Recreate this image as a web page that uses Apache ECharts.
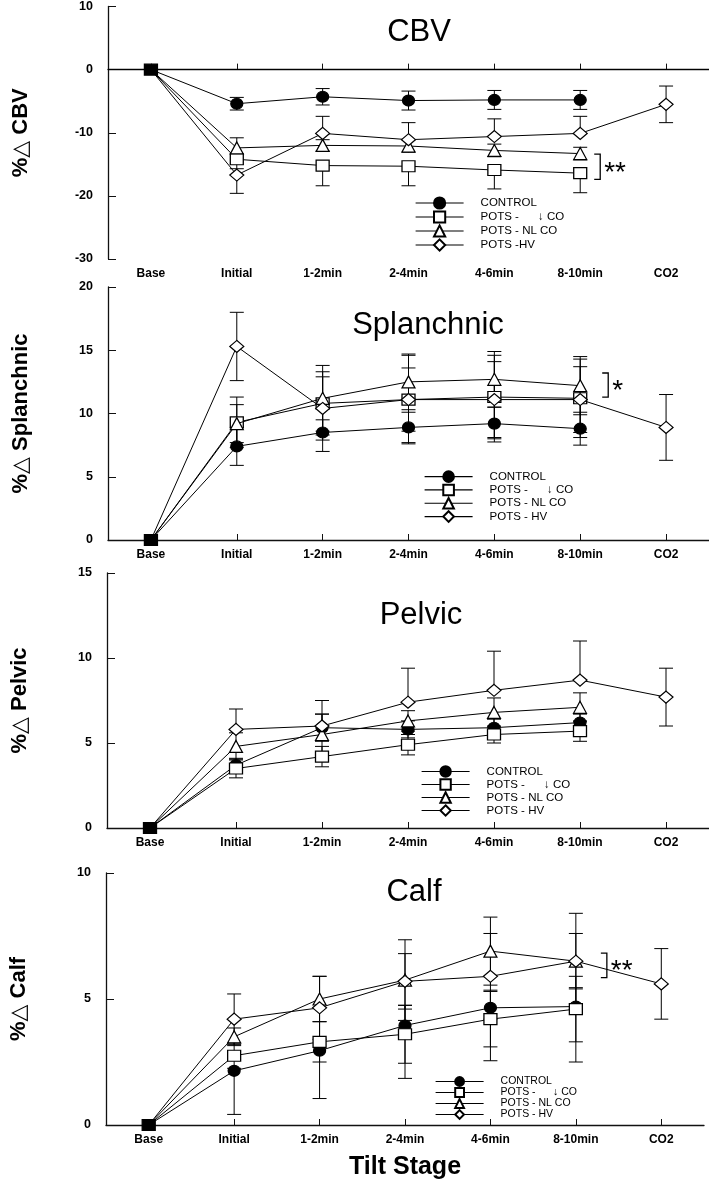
<!DOCTYPE html>
<html><head><meta charset="utf-8">
<script src="https://cdn.jsdelivr.net/npm/echarts@6/dist/echarts.min.js"></script>
<style>html,body{margin:0;padding:0;background:#fff}#c{width:709px;height:1181px}</style>
</head><body><div id="c"></div>
<script>
// ---------------- DATA ----------------
const categories = ['Base', 'Initial', '1-2min', '2-4min', '4-6min', '8-10min', 'CO2'];
const groupNames = ['CONTROL', 'POTS -      \u2193 CO', 'POTS - NL CO', 'POTS - HV'];
const cbvGroupNames = ['CONTROL', 'POTS -      \u2193 CO', 'POTS - NL CO', 'POTS -HV'];
const panelTitles = ['CBV', 'Splanchnic', 'Pelvic', 'Calf'];
const yAxisNames = ['%\u25B3 CBV', '%\u25B3 Splanchnic', '%\u25B3 Pelvic', '%\u25B3 Calf'];
const yMins = [-30, 0, 0, 0];
const yMaxs = [10, 20, 15, 10];
const yIntervals = [10, 5, 5, 5];
const xAxisTitle = 'Tilt Stage';

// CBV
const cbvControl      = [0, -5.4, -4.3, -4.9, -4.8, -4.8, null];
const cbvControlErrHi = [0, 1.0, 1.3, 1.5, 1.5, 1.5, null];
const cbvControlErrLo = [0, 1.0, 1.3, 1.5, 1.5, 1.5, null];
const cbvLowCO        = [0, -14.2, -15.2, -15.3, -15.9, -16.4, null];
const cbvLowCOErrHi   = [0, 0, 0, 0, 0, 0, null];
const cbvLowCOErrLo   = [0, 1.5, 3.2, 3.1, 3.0, 3.1, null];
const cbvNLCO         = [0, -12.4, -12.0, -12.1, -12.8, -13.3, null];
const cbvNLCOErrHi    = [0, 1.6, 0.9, 1.0, 1.0, 1.0, null];
const cbvNLCOErrLo    = [0, 0, 0.9, 1.0, 1.0, 1.0, null];
const cbvHV           = [0, -16.7, -10.1, -11.1, -10.6, -10.1, -5.5];
const cbvHVErrHi      = [0, 0, 2.7, 2.7, 2.8, 2.7, 2.9];
const cbvHVErrLo      = [0, 2.9, 0, 0, 0, 0, 2.9];

// Splanchnic
const splControl      = [0, 7.4, 8.5, 8.9, 9.2, 8.8, null];
const splControlErrHi = [0, 1.5, 1.0, 1.2, 1.3, 1.3, null];
const splControlErrLo = [0, 1.5, 1.5, 1.2, 1.45, 1.3, null];
const splLowCO        = [0, 9.3, 10.8, 11.1, 11.3, 11.2, null];
const splLowCOErrHi   = [0, 2.0, 2.5, 3.5, 3.3, 3.1, null];
const splLowCOErrLo   = [0, 2.0, 2.5, 3.5, 3.3, 3.1, null];
const splNLCO         = [0, 9.2, 11.2, 12.5, 12.7, 12.2, null];
const splNLCOErrHi    = [0, 1.5, 2.6, 2.2, 2.2, 2.3, null];
const splNLCOErrLo    = [0, 1.5, 2.6, 2.2, 2.2, 2.3, null];
const splHV           = [0, 15.3, 10.4, 11.1, 11.1, 11.1, 8.9];
const splHVErrHi      = [0, 2.7, 2.5, 2.5, 3.0, 2.6, 2.6];
const splHVErrLo      = [0, 2.7, 2.5, 2.5, 3.0, 2.6, 2.6];

// Pelvic
const pelControl      = [0, 3.7, 5.9, 5.8, 5.9, 6.2, null];
const pelControlErrHi = [0, 0.4, 0.8, 0.5, 0.5, 0.5, null];
const pelControlErrLo = [0, 0.4, 0.8, 0.5, 0.5, 0.5, null];
const pelLowCO        = [0, 3.5, 4.2, 4.9, 5.5, 5.7, null];
const pelLowCOErrHi   = [0, 0.55, 0.6, 0.6, 0.5, 0.6, null];
const pelLowCOErrLo   = [0, 0.55, 0.6, 0.6, 0.5, 0.6, null];
const pelNLCO         = [0, 4.8, 5.5, 6.3, 6.8, 7.1, null];
const pelNLCOErrHi    = [0, 0.8, 1.2, 0.6, 0.85, 0.85, null];
const pelNLCOErrLo    = [0, 0.8, 1.2, 0.6, 0.85, 0.85, null];
const pelHV           = [0, 5.8, 6.0, 7.4, 8.1, 8.7, 7.7];
const pelHVErrHi      = [0, 1.2, 1.5, 2.0, 2.3, 2.3, 1.7];
const pelHVErrLo      = [0, 0, 0, 0, 0, 0, 1.7];

// Calf
const calfControl      = [0, 2.15, 2.95, 3.95, 4.65, 4.7, null];
const calfControlErrHi = [0, 0, 0, 0.8, 0.7, 0.75, null];
const calfControlErrLo = [0, 1.73, 1.9, 2.1, 2.1, 2.2, null];
const calfLowCO        = [0, 2.75, 3.3, 3.6, 4.2, 4.6, null];
const calfLowCOErrHi   = [0, 0.5, 0.8, 1.15, 1.1, 1.3, null];
const calfLowCOErrLo   = [0, 0.5, 0.8, 1.15, 1.1, 1.3, null];
const calfNLCO         = [0, 3.5, 5.0, 5.75, 6.9, 6.5, null];
const calfNLCOErrHi    = [0, 0.35, 0.9, 1.6, 1.35, 1.9, null];
const calfNLCOErrLo    = [0, 0.35, 0.9, 1.6, 1.35, 1.9, null];
const calfHV           = [0, 4.2, 4.65, 5.7, 5.9, 6.5, 5.6];
const calfHVErrHi      = [0, 1.0, 1.25, 1.1, 1.7, 1.1, 1.4];
const calfHVErrLo      = [0, 1.0, 1.25, 1.1, 1.7, 1.1, 1.4];

// significance brackets: [category index, low value, high value, label]
const cbvSig  = [5, -17.4, -13.4, '**'];
const splSig  = [5, 11.3, 13.2, '*'];
const calfSig = [5, 5.85, 6.82, '**'];

// ---------------- ASSEMBLY ----------------
const panelData = [
  {names: cbvGroupNames, groups: [
    [cbvControl, cbvControlErrHi, cbvControlErrLo], [cbvLowCO, cbvLowCOErrHi, cbvLowCOErrLo],
    [cbvNLCO, cbvNLCOErrHi, cbvNLCOErrLo], [cbvHV, cbvHVErrHi, cbvHVErrLo]], sig: cbvSig, zeroLine: true},
  {names: groupNames, groups: [
    [splControl, splControlErrHi, splControlErrLo], [splLowCO, splLowCOErrHi, splLowCOErrLo],
    [splNLCO, splNLCOErrHi, splNLCOErrLo], [splHV, splHVErrHi, splHVErrLo]], sig: splSig},
  {names: groupNames, groups: [
    [pelControl, pelControlErrHi, pelControlErrLo], [pelLowCO, pelLowCOErrHi, pelLowCOErrLo],
    [pelNLCO, pelNLCOErrHi, pelNLCOErrLo], [pelHV, pelHVErrHi, pelHVErrLo]], sig: null},
  {names: groupNames, groups: [
    [calfControl, calfControlErrHi, calfControlErrLo], [calfLowCO, calfLowCOErrHi, calfLowCOErrLo],
    [calfNLCO, calfNLCOErrHi, calfNLCOErrLo], [calfHV, calfHVErrHi, calfHVErrLo]], sig: calfSig}
];

// layout / style (positions in px)
const layout = [
  {grid: {left: 108, right: 0, top: 5, height: 254}, title: [414, 12], legend: [415, 196], lh: 14, ih: 14, gap: 0, lf: 11.5, sigDx: 20},
  {grid: {left: 108, right: 0, top: 287, height: 253}, title: [423, 305], legend: [424, 470], lh: 13.3, ih: 13.3, gap: 0, lf: 11.5, sigDx: 28},
  {grid: {left: 107, right: 0, top: 573, height: 255}, title: [416, 595], legend: [421, 765], lh: 13, ih: 13, gap: 0, lf: 11.5, sigDx: 0},
  {grid: {left: 103, right: 5, top: 873, height: 252}, title: [409, 872], legend: [435, 1076], lh: 10, ih: 11, gap: 0, lf: 10.5, sigDx: 31}
];

const SANS = '"Liberation Sans",Arial,"DejaVu Sans",sans-serif';
const symbols = ['circle', 'rect', 'triangle', 'diamond'];
const symbolSizes = [[12, 11], [13, 11], [13, 12], [14, 12]];
const fills = ['#000', '#fff', '#fff', '#fff'];

const grids = [], xAxes = [], yAxes = [], series = [], titles = [], legends = [];

function makeErrRender() {
  return function (params, api) {
    const x = api.value(0), v = api.value(1), hi = api.value(2), lo = api.value(3);
    const pv = api.coord([x, v]);
    const ph = api.coord([x, hi]);
    const pl = api.coord([x, lo]);
    const w = 7;
    const st = {stroke: '#000', lineWidth: 1};
    const ch = [];
    if (hi !== v) {
      ch.push({type: 'line', shape: {x1: pv[0], y1: pv[1], x2: ph[0], y2: ph[1]}, style: st});
      ch.push({type: 'line', shape: {x1: ph[0] - w, y1: ph[1], x2: ph[0] + w, y2: ph[1]}, style: st});
    }
    if (lo !== v) {
      ch.push({type: 'line', shape: {x1: pv[0], y1: pv[1], x2: pl[0], y2: pl[1]}, style: st});
      ch.push({type: 'line', shape: {x1: pl[0] - w, y1: pl[1], x2: pl[0] + w, y2: pl[1]}, style: st});
    }
    return {type: 'group', children: ch};
  };
}

function makeSigRender(label, dx) {
  return function (params, api) {
    const x = api.value(0), lo = api.value(1), hi = api.value(2);
    const t = api.coord([x, hi]), b = api.coord([x, lo]);
    const bx = t[0] + dx;
    return {type: 'group', children: [
      {type: 'polyline', shape: {points: [[bx - 6, t[1]], [bx, t[1]], [bx, b[1]], [bx - 6, b[1]]]},
       style: {stroke: '#000', fill: null, lineWidth: 1.3}},
      {type: 'text', style: {text: label, x: bx + 4, y: (t[1] + b[1]) / 2 + 6, fill: '#000',
        font: '28px ' + SANS, verticalAlign: 'middle', align: 'left'}}
    ]};
  };
}

panelData.forEach((p, i) => {
  const L = layout[i];
  grids.push(Object.assign({containLabel: false}, L.grid));
  xAxes.push({
    type: 'category', gridIndex: i, data: categories, boundaryGap: true,
    axisLine: {show: true, lineStyle: {color: '#111', width: 1.3}},
    axisTick: {show: true, inside: true, alignWithLabel: true, length: 6, lineStyle: {color: '#111'}},
    axisLabel: {color: '#000', fontFamily: SANS, fontWeight: 'bold', fontSize: 12, margin: 9},
    splitLine: {show: false},
    name: i === 3 ? xAxisTitle : '', nameLocation: 'middle', nameGap: 30,
    nameTextStyle: {color: '#000', fontFamily: SANS, fontWeight: 'bold', fontSize: 25}
  });
  yAxes.push({
    type: 'value', gridIndex: i, min: yMins[i], max: yMaxs[i], interval: yIntervals[i],
    axisLine: {show: true, lineStyle: {color: '#111', width: 1.3}},
    axisTick: {show: true, inside: true, length: 8, lineStyle: {color: '#111'}},
    axisLabel: {color: '#000', fontFamily: SANS, fontWeight: 'bold', fontSize: 12.5, margin: 15},
    splitLine: {show: false},
    name: yAxisNames[i], nameLocation: 'middle', nameRotate: 90, nameGap: 76,
    nameTextStyle: {color: '#000', fontFamily: SANS, fontWeight: 'bold', fontSize: 22}
  });
  titles.push({text: panelTitles[i], left: L.title[0], top: L.title[1], textAlign: 'center',
    textStyle: {color: '#000', fontFamily: SANS, fontWeight: 'normal', fontSize: 31}});

  p.groups.forEach((g, k) => {
    const [vals, hi, lo] = g;
    const errData = [];
    vals.forEach((v, j) => {
      if (v === null || v === undefined) return;
      if ((hi[j] || 0) === 0 && (lo[j] || 0) === 0) return;
      errData.push([j, v, v + (hi[j] || 0), v - (lo[j] || 0)]);
    });
    series.push({
      type: 'custom', xAxisIndex: i, yAxisIndex: i, z: 1, silent: true,
      renderItem: makeErrRender(), data: errData, encode: {x: 0, y: [1, 2, 3]}
    });
  });
  p.groups.forEach((g, k) => {
    const vals = g[0];
    // at Base all groups coincide; only the (black) square is shown there
    const data = vals.map((v, j) => {
      if (j !== 0) return v;
      return k === 1 ? {value: v, itemStyle: {color: '#000'}} : {value: v, symbol: 'none'};
    });
    const s = {
      type: 'line', name: p.names[k], xAxisIndex: i, yAxisIndex: i, z: 3 + k,
      data: data, symbol: symbols[k], symbolSize: symbolSizes[k], showAllSymbol: true,
      connectNulls: false,
      lineStyle: {color: '#000', width: 1},
      itemStyle: {color: fills[k], borderColor: '#000', borderWidth: 1.2}
    };
    if (p.zeroLine && k === 0) {
      s.markLine = {silent: true, symbol: 'none', label: {show: false},
        lineStyle: {color: '#000', type: 'solid', width: 1.2}, data: [{yAxis: 0}]};
    }
    series.push(s);
  });
  if (p.sig) {
    series.push({
      type: 'custom', xAxisIndex: i, yAxisIndex: i, z: 10, silent: true,
      renderItem: makeSigRender(p.sig[3], L.sigDx),
      data: [[p.sig[0], p.sig[1], p.sig[2]]], encode: {x: 0, y: [1, 2]}
    });
  }
  legends.push({
    data: p.names, orient: 'vertical', left: L.legend[0], top: L.legend[1],
    itemWidth: 48, itemHeight: L.ih, itemGap: L.gap, padding: 0, selectedMode: false,
    lineStyle: {width: 1.2, color: '#000'},
    textStyle: {color: '#000', fontFamily: SANS, fontSize: L.lf, lineHeight: L.lh, padding: [0, 0, 0, 12]}
  });
});

const chart = echarts.init(document.getElementById('c'), null, {renderer: 'canvas'});
chart.setOption({
  animation: false, backgroundColor: '#fff',
  title: titles, legend: legends, grid: grids, xAxis: xAxes, yAxis: yAxes, series: series
});
</script>
</body></html>
